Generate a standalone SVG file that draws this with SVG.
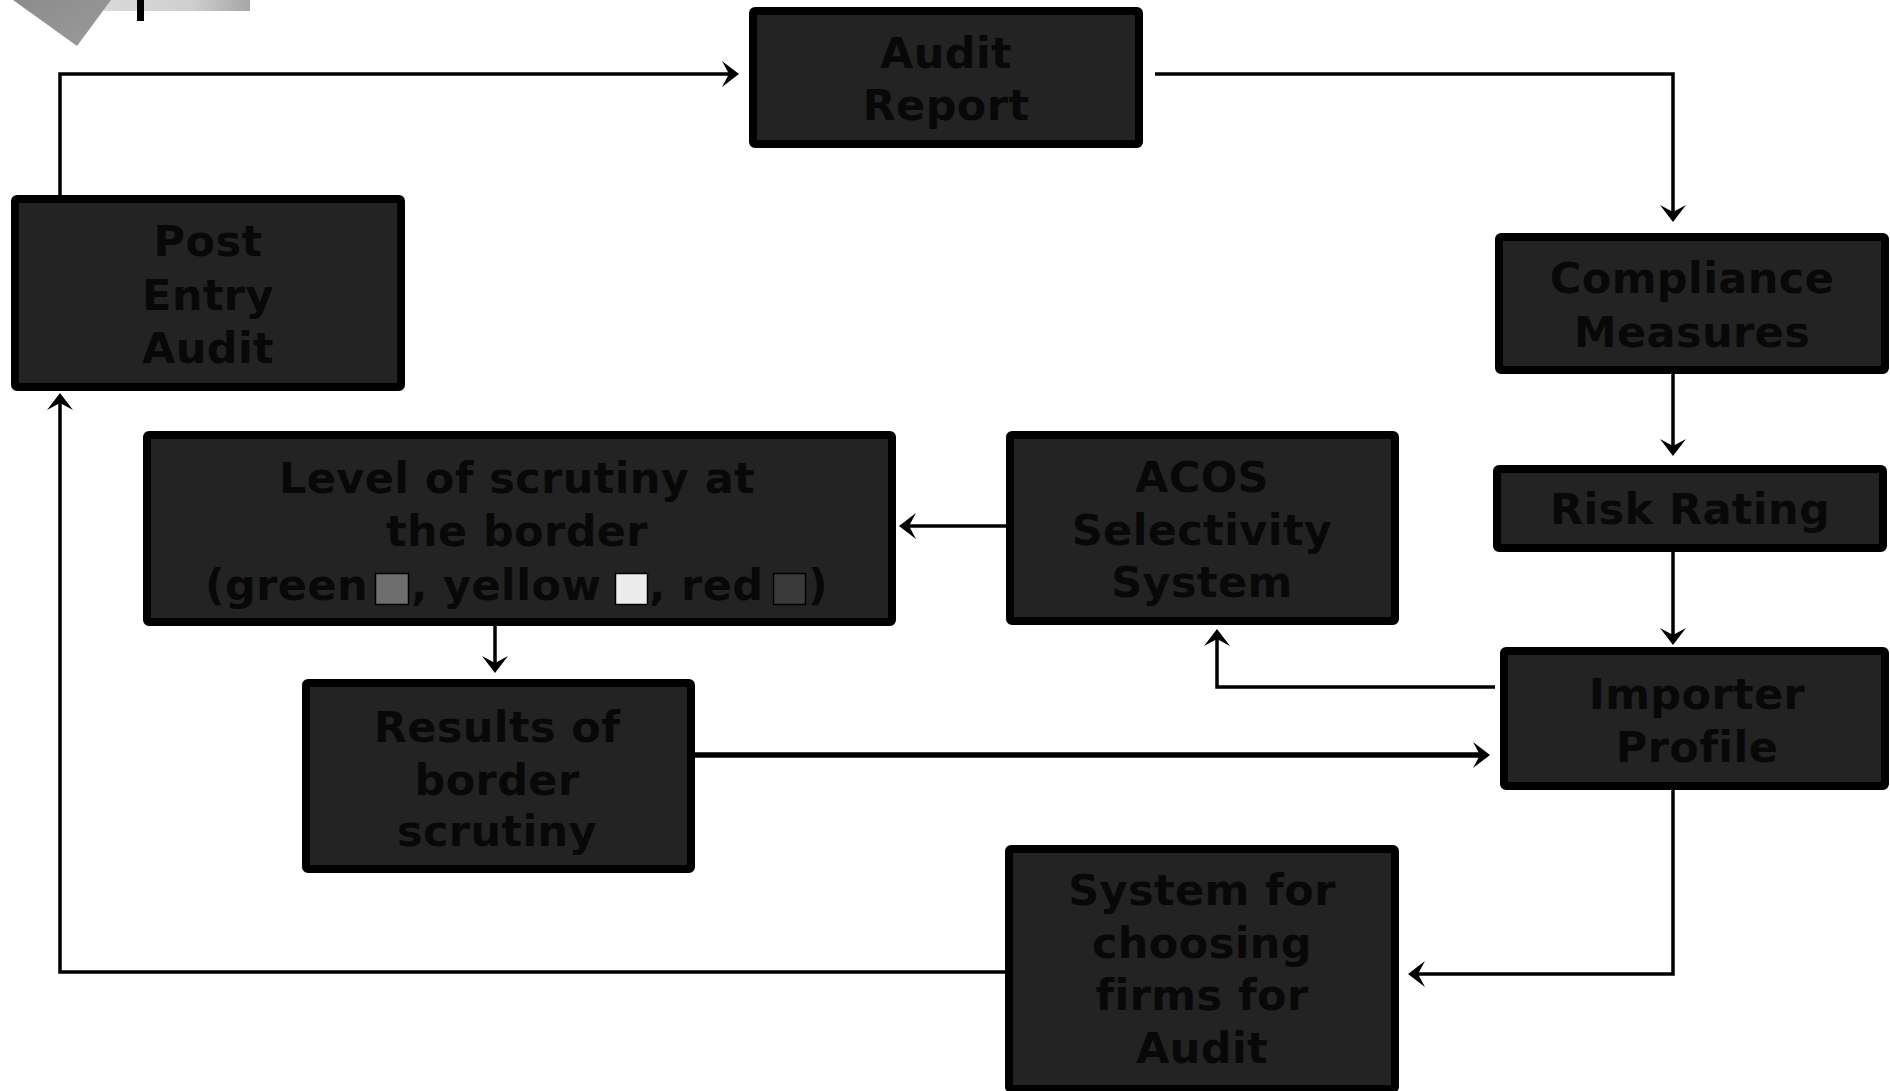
<svg xmlns="http://www.w3.org/2000/svg" width="1890" height="1091" viewBox="0 0 1890 1091">
  <style>
    .box { fill: #232323; stroke: #000; stroke-width: 8; }
    .lbl { font-family: "DejaVu Sans", "Liberation Sans", sans-serif; font-weight: bold; font-size: 43px; letter-spacing: 0.4px; fill: #080808; text-anchor: middle; }
    .lbs { font-family: "DejaVu Sans", "Liberation Sans", sans-serif; font-weight: bold; font-size: 43px; letter-spacing: 0.4px; fill: #080808; text-anchor: start; }
    .conn { fill: none; stroke: #000; stroke-width: 3.5; marker-end: url(#arr); }
    .thick { stroke-width: 5.5; }
    .sw { stroke: #000; stroke-width: 1.5; }
  </style>
  <defs>
    <marker id="arr" viewBox="-20 -16 22 32" markerUnits="userSpaceOnUse" markerWidth="22" markerHeight="32" refX="-6" refY="0" orient="auto" overflow="visible">
      <path d="M0,0 L-17,-13 L-10,0 L-17,13 Z" fill="#000"/>
    </marker>
    <linearGradient id="barg" x1="0" y1="0" x2="1" y2="0">
      <stop offset="0" stop-color="#d9d9d9"/>
      <stop offset="0.6" stop-color="#cfcfcf"/>
      <stop offset="1" stop-color="#a6a6a6"/>
    </linearGradient>
    <linearGradient id="trig" x1="0" y1="0" x2="1" y2="1">
      <stop offset="0" stop-color="#8c8c8c"/>
      <stop offset="1" stop-color="#9a9a9a"/>
    </linearGradient>
  </defs>

  <g id="decoration">
    <rect x="104" y="0" width="146" height="11" fill="url(#barg)"/>
    <polygon points="13,0 111,0 77,46" fill="url(#trig)"/>
    <rect x="137" y="0" width="7" height="21" fill="#000"/>
  </g>

  <g id="connectors">
    <path class="conn" d="M60,195 V74 H733"/>
    <path class="conn" d="M1155,74 H1673 V216"/>
    <path class="conn" d="M1673,374 V450"/>
    <path class="conn" d="M1673,552 V639"/>
    <path class="conn" d="M1495,687 H1217 V635"/>
    <path class="conn" d="M1006,526 H905"/>
    <path class="conn" d="M495,626 V667"/>
    <path class="conn thick" d="M695,755 H1484"/>
    <path class="conn" d="M1673,790 V974 H1414"/>
    <path class="conn" d="M1006,972 H60 V399"/>
  </g>

  <g id="audit-report">
    <rect class="box" x="753" y="11" width="386" height="133" rx="2"/>
    <text class="lbl" x="946" y="68">Audit</text>
    <text class="lbl" x="946" y="120">Report</text>
  </g>

  <g id="post-entry-audit">
    <rect class="box" x="15" y="199" width="386" height="188" rx="2"/>
    <text class="lbl" x="208" y="256">Post</text>
    <text class="lbl" x="208" y="310">Entry</text>
    <text class="lbl" x="208" y="363">Audit</text>
  </g>

  <g id="compliance-measures">
    <rect class="box" x="1499" y="237" width="386" height="133" rx="2"/>
    <text class="lbl" x="1692" y="293">Compliance</text>
    <text class="lbl" x="1692" y="347">Measures</text>
  </g>

  <g id="risk-rating">
    <rect class="box" x="1497" y="469" width="386" height="79" rx="2"/>
    <text class="lbl" x="1690" y="524">Risk Rating</text>
  </g>

  <g id="importer-profile">
    <rect class="box" x="1504" y="651" width="381" height="135" rx="2"/>
    <text class="lbl" x="1697" y="709">Importer</text>
    <text class="lbl" x="1697" y="762">Profile</text>
  </g>

  <g id="acos-selectivity-system">
    <rect class="box" x="1010" y="435" width="385" height="186" rx="2"/>
    <text class="lbl" x="1202" y="492">ACOS</text>
    <text class="lbl" x="1202" y="545">Selectivity</text>
    <text class="lbl" x="1202" y="597">System</text>
  </g>

  <g id="level-of-scrutiny">
    <rect class="box" x="147" y="435" width="745" height="187" rx="2"/>
    <text class="lbl" x="517" y="493">Level of scrutiny at</text>
    <text class="lbl" x="517" y="546">the border</text>
    <text class="lbs" x="205" y="600">(green</text>
    <rect class="sw" x="375.5" y="573.5" width="33" height="31" fill="#6e6e6e"/>
    <text class="lbs" x="411" y="600">, yellow</text>
    <rect class="sw" x="615.5" y="573.5" width="32" height="31" fill="#ececec"/>
    <text class="lbs" x="649" y="600">, red</text>
    <rect class="sw" x="773.5" y="573.5" width="32" height="31" fill="#3a3a3a"/>
    <text class="lbs" x="808" y="600">)</text>
  </g>

  <g id="results-of-border-scrutiny">
    <rect class="box" x="306" y="683" width="385" height="186" rx="2"/>
    <text class="lbl" x="497" y="742">Results of</text>
    <text class="lbl" x="497" y="795">border</text>
    <text class="lbl" x="497" y="846">scrutiny</text>
  </g>

  <g id="system-for-choosing-firms">
    <rect class="box" x="1009" y="849" width="386" height="240" rx="2"/>
    <text class="lbl" x="1202" y="905">System for</text>
    <text class="lbl" x="1202" y="958">choosing</text>
    <text class="lbl" x="1202" y="1010">firms for</text>
    <text class="lbl" x="1202" y="1063">Audit</text>
  </g>
</svg>
